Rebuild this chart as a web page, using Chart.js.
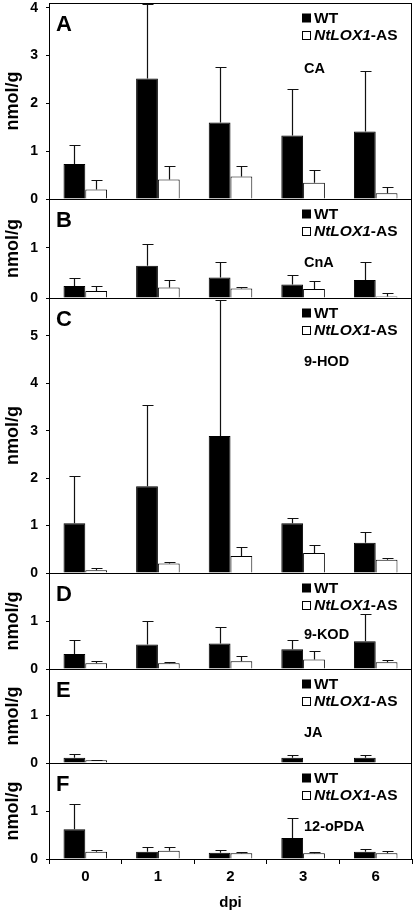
<!DOCTYPE html>
<html><head><meta charset="utf-8">
<script src="https://cdn.jsdelivr.net/npm/chart.js@4/dist/chart.umd.min.js"></script>
<style>
html,body{margin:0;padding:0;background:#fff;}
#wrap{position:relative;width:415px;height:913px;overflow:hidden;background:#fff;}
#wrap canvas{position:absolute;left:0;top:0;}
</style></head><body><div id="wrap"></div>
<script>
// ---- data ----
const days = ['0', '1', '2', '3', '6'];
const seriesNames = ['WT', 'NtLOX1-AS'];

// CA
const caWT = [0.73, 2.52, 1.60, 1.33, 1.41];
const caWTUp = [1.13, 4.07, 2.77, 2.31, 2.67];
const caAS = [0.20, 0.41, 0.47, 0.34, 0.12];
const caASUp = [0.39, 0.68, 0.70, 0.61, 0.26];
const caTicks = [0, 1, 2, 3, 4];

// CnA
const cnaWT = [0.24, 0.64, 0.41, 0.27, 0.36];
const cnaWTUp = [0.39, 1.07, 0.71, 0.45, 0.71];
const cnaAS = [0.14, 0.21, 0.19, 0.18, 0.03];
const cnaASUp = [0.23, 0.35, 0.21, 0.34, 0.09];
const cnaTicks = [0, 1];

// 9-HOD
const hodWT = [1.05, 1.83, 2.89, 1.05, 0.64];
const hodWTUp = [2.04, 3.55, 5.75, 1.17, 0.86];
const hodAS = [0.06, 0.20, 0.36, 0.42, 0.28];
const hodASUp = [0.10, 0.23, 0.54, 0.60, 0.32];
const hodTicks = [0, 1, 2, 3, 4, 5];

// 9-KOD
const kodWT = [0.31, 0.51, 0.53, 0.41, 0.58];
const kodWTUp = [0.60, 0.99, 0.88, 0.60, 1.15];
const kodAS = [0.12, 0.12, 0.16, 0.20, 0.14];
const kodASUp = [0.17, 0.15, 0.28, 0.38, 0.19];
const kodTicks = [0, 1];

// JA
const jaWT = [0.11, null, null, 0.11, 0.11];
const jaWTUp = [0.18, null, null, 0.16, 0.17];
const jaAS = [0.06, null, null, null, null];
const jaASUp = [0.07, null, null, null, null];
const jaTicks = [0, 1];

// 12-oPDA
const opdaWT = [0.62, 0.15, 0.13, 0.44, 0.15];
const opdaWTUp = [1.14, 0.24, 0.18, 0.85, 0.20];
const opdaAS = [0.15, 0.17, 0.12, 0.12, 0.12];
const opdaASUp = [0.19, 0.24, 0.15, 0.15, 0.16];
const opdaTicks = [0, 1];

// ---- layout ----
const W = 415, H = 913;
const FONT = '"Liberation Sans", Arial, Helvetica, sans-serif';
const panels = [
  {letter: 'A', compound: 'CA', wt: caWT, wtUp: caWTUp, as: caAS, asUp: caASUp, ticks: caTicks, max: 4.1, top: 3, bottom: 199, labelDy: 66},
  {letter: 'B', compound: 'CnA', wt: cnaWT, wtUp: cnaWTUp, as: cnaAS, asUp: cnaASUp, ticks: cnaTicks, max: 1.97, top: 199, bottom: 298, labelDy: 64},
  {letter: 'C', compound: '9-HOD', wt: hodWT, wtUp: hodWTUp, as: hodAS, asUp: hodASUp, ticks: hodTicks, max: 5.8, top: 298, bottom: 573, labelDy: 64},
  {letter: 'D', compound: '9-KOD', wt: kodWT, wtUp: kodWTUp, as: kodAS, asUp: kodASUp, ticks: kodTicks, max: 2.0, top: 573, bottom: 669, labelDy: 61.5},
  {letter: 'E', compound: 'JA', wt: jaWT, wtUp: jaWTUp, as: jaAS, asUp: jaASUp, ticks: jaTicks, max: 1.98, top: 669, bottom: 763, labelDy: 64},
  {letter: 'F', compound: '12-oPDA', wt: opdaWT, wtUp: opdaWTUp, as: opdaAS, asUp: opdaASUp, ticks: opdaTicks, max: 2.0, top: 763, bottom: 859, labelDy: 64}
];

const decor = {
  id: 'decor',
  afterDatasetsDraw(chart, args, o) {
    const ctx = chart.ctx, ys = chart.scales.y, a = chart.chartArea;
    ctx.save();
    ctx.strokeStyle = '#111';
    ctx.lineWidth = 1.2;
    [o.wtUp, o.asUp].forEach((up, di) => {
      const meta = chart.getDatasetMeta(di);
      meta.data.forEach((el, j) => {
        const v = up[j];
        if (v == null || chart.data.datasets[di].data[j] == null) return;
        const x = Math.round(el.x) + 0.5;
        const yb = el.y;
        const yt = Math.round(ys.getPixelForValue(v)) + 0.5;
        ctx.beginPath();
        ctx.moveTo(x, yb); ctx.lineTo(x, yt);
        ctx.moveTo(x - 5, yt); ctx.lineTo(x + 6, yt);
        ctx.stroke();
      });
    });
    // frame
    ctx.strokeStyle = '#000';
    ctx.lineWidth = 1;
    const l = Math.round(a.left) + 0.5, t = Math.round(a.top) + 0.5;
    const r = Math.round(a.right) - 0.5, b = Math.round(a.bottom) + 0.5;
    ctx.strokeRect(l, t, r - l, b - t);

    // panel letter
    ctx.fillStyle = '#000';
    ctx.textBaseline = 'middle';
    ctx.textAlign = 'left';
    ctx.font = 'bold 22px ' + FONT;
    ctx.fillText(o.letter, a.left + 7, a.top + 21.5);

    // legend
    const lx = 302;
    ctx.fillRect(lx, a.top + 15 - 4.5, 9, 9);
    ctx.fillStyle = '#fff';
    ctx.fillRect(lx, a.top + 32 - 4.5, 9, 9);
    ctx.strokeRect(lx + 0.5, Math.round(a.top + 32 - 4.5) + 0.5, 8, 8);
    ctx.fillStyle = '#000';
    ctx.font = 'bold 15.5px ' + FONT;
    ctx.fillText(seriesNames[0], lx + 12, a.top + 15.5);
    const parts = seriesNames[1].split('-');
    ctx.font = 'italic bold 15.5px ' + FONT;
    ctx.fillText(parts[0], lx + 12, a.top + 32.5);
    const w0 = ctx.measureText(parts[0]).width;
    ctx.font = 'bold 15.5px ' + FONT;
    ctx.fillText('-' + parts[1], lx + 12 + w0, a.top + 32.5);

    // compound label
    ctx.font = 'bold 14.5px ' + FONT;
    ctx.fillText(o.compound, 304, a.top + o.labelDy);
    ctx.restore();
  }
};

const wrap = document.getElementById('wrap');
panels.forEach((p, idx) => {
  const last = idx === panels.length - 1;
  const cv = document.createElement('canvas');
  cv.width = W; cv.height = H;
  cv.style.width = W + 'px'; cv.style.height = H + 'px';
  wrap.appendChild(cv);
  new Chart(cv, {
    type: 'bar',
    data: {
      labels: days,
      datasets: [
        {label: seriesNames[0], data: p.wt, backgroundColor: '#000', borderColor: '#000', borderWidth: 1},
        {label: seriesNames[1], data: p.as, backgroundColor: '#fff', borderColor: '#000', borderWidth: 1}
      ]
    },
    options: {
      responsive: false,
      animation: false,
      devicePixelRatio: 1,
      events: [],
      datasets: {bar: {categoryPercentage: 0.6, barPercentage: 1.0}},
      layout: {padding: {top: p.top, bottom: last ? 0 : H - p.bottom, left: 0, right: 3}},
      plugins: {
        legend: {display: false},
        tooltip: {enabled: false},
        decor: {letter: p.letter, compound: p.compound, wtUp: p.wtUp, asUp: p.asUp, labelDy: p.labelDy}
      },
      scales: {
        x: {
          display: last,
          offset: true,
          grid: {display: true, drawOnChartArea: false, drawTicks: true, tickLength: 5, color: '#000', offset: true},
          border: {display: false},
          ticks: {color: '#000', font: {family: FONT, size: 15, weight: 'bold'}, padding: 4, maxRotation: 0},
          title: {display: true, text: 'dpi', color: '#000', font: {family: FONT, size: 15, weight: 'bold'}, padding: {top: 0, bottom: 1}},
          afterFit(s) { if (last) { s.height = H - p.bottom; } s.paddingLeft = 0; s.paddingRight = 0; }
        },
        y: {
          min: 0, max: p.max,
          grid: {display: true, drawOnChartArea: false, drawTicks: true, tickLength: 3, color: '#000'},
          border: {display: false},
          ticks: {color: '#000', font: {family: FONT, size: 14, weight: 'bold'}, padding: 8, callback: v => String(v)},
          title: {display: true, text: 'nmol/g', color: '#000', font: {family: FONT, size: 18, weight: 'bold'}, padding: {top: 2, bottom: 0}},
          afterBuildTicks(s) { s.ticks = p.ticks.map(v => ({value: v})); },
          afterFit(s) { s.width = 49; s.paddingTop = 0; s.paddingBottom = 0; }
        }
      }
    },
    plugins: [decor]
  });
});
</script></body></html>
